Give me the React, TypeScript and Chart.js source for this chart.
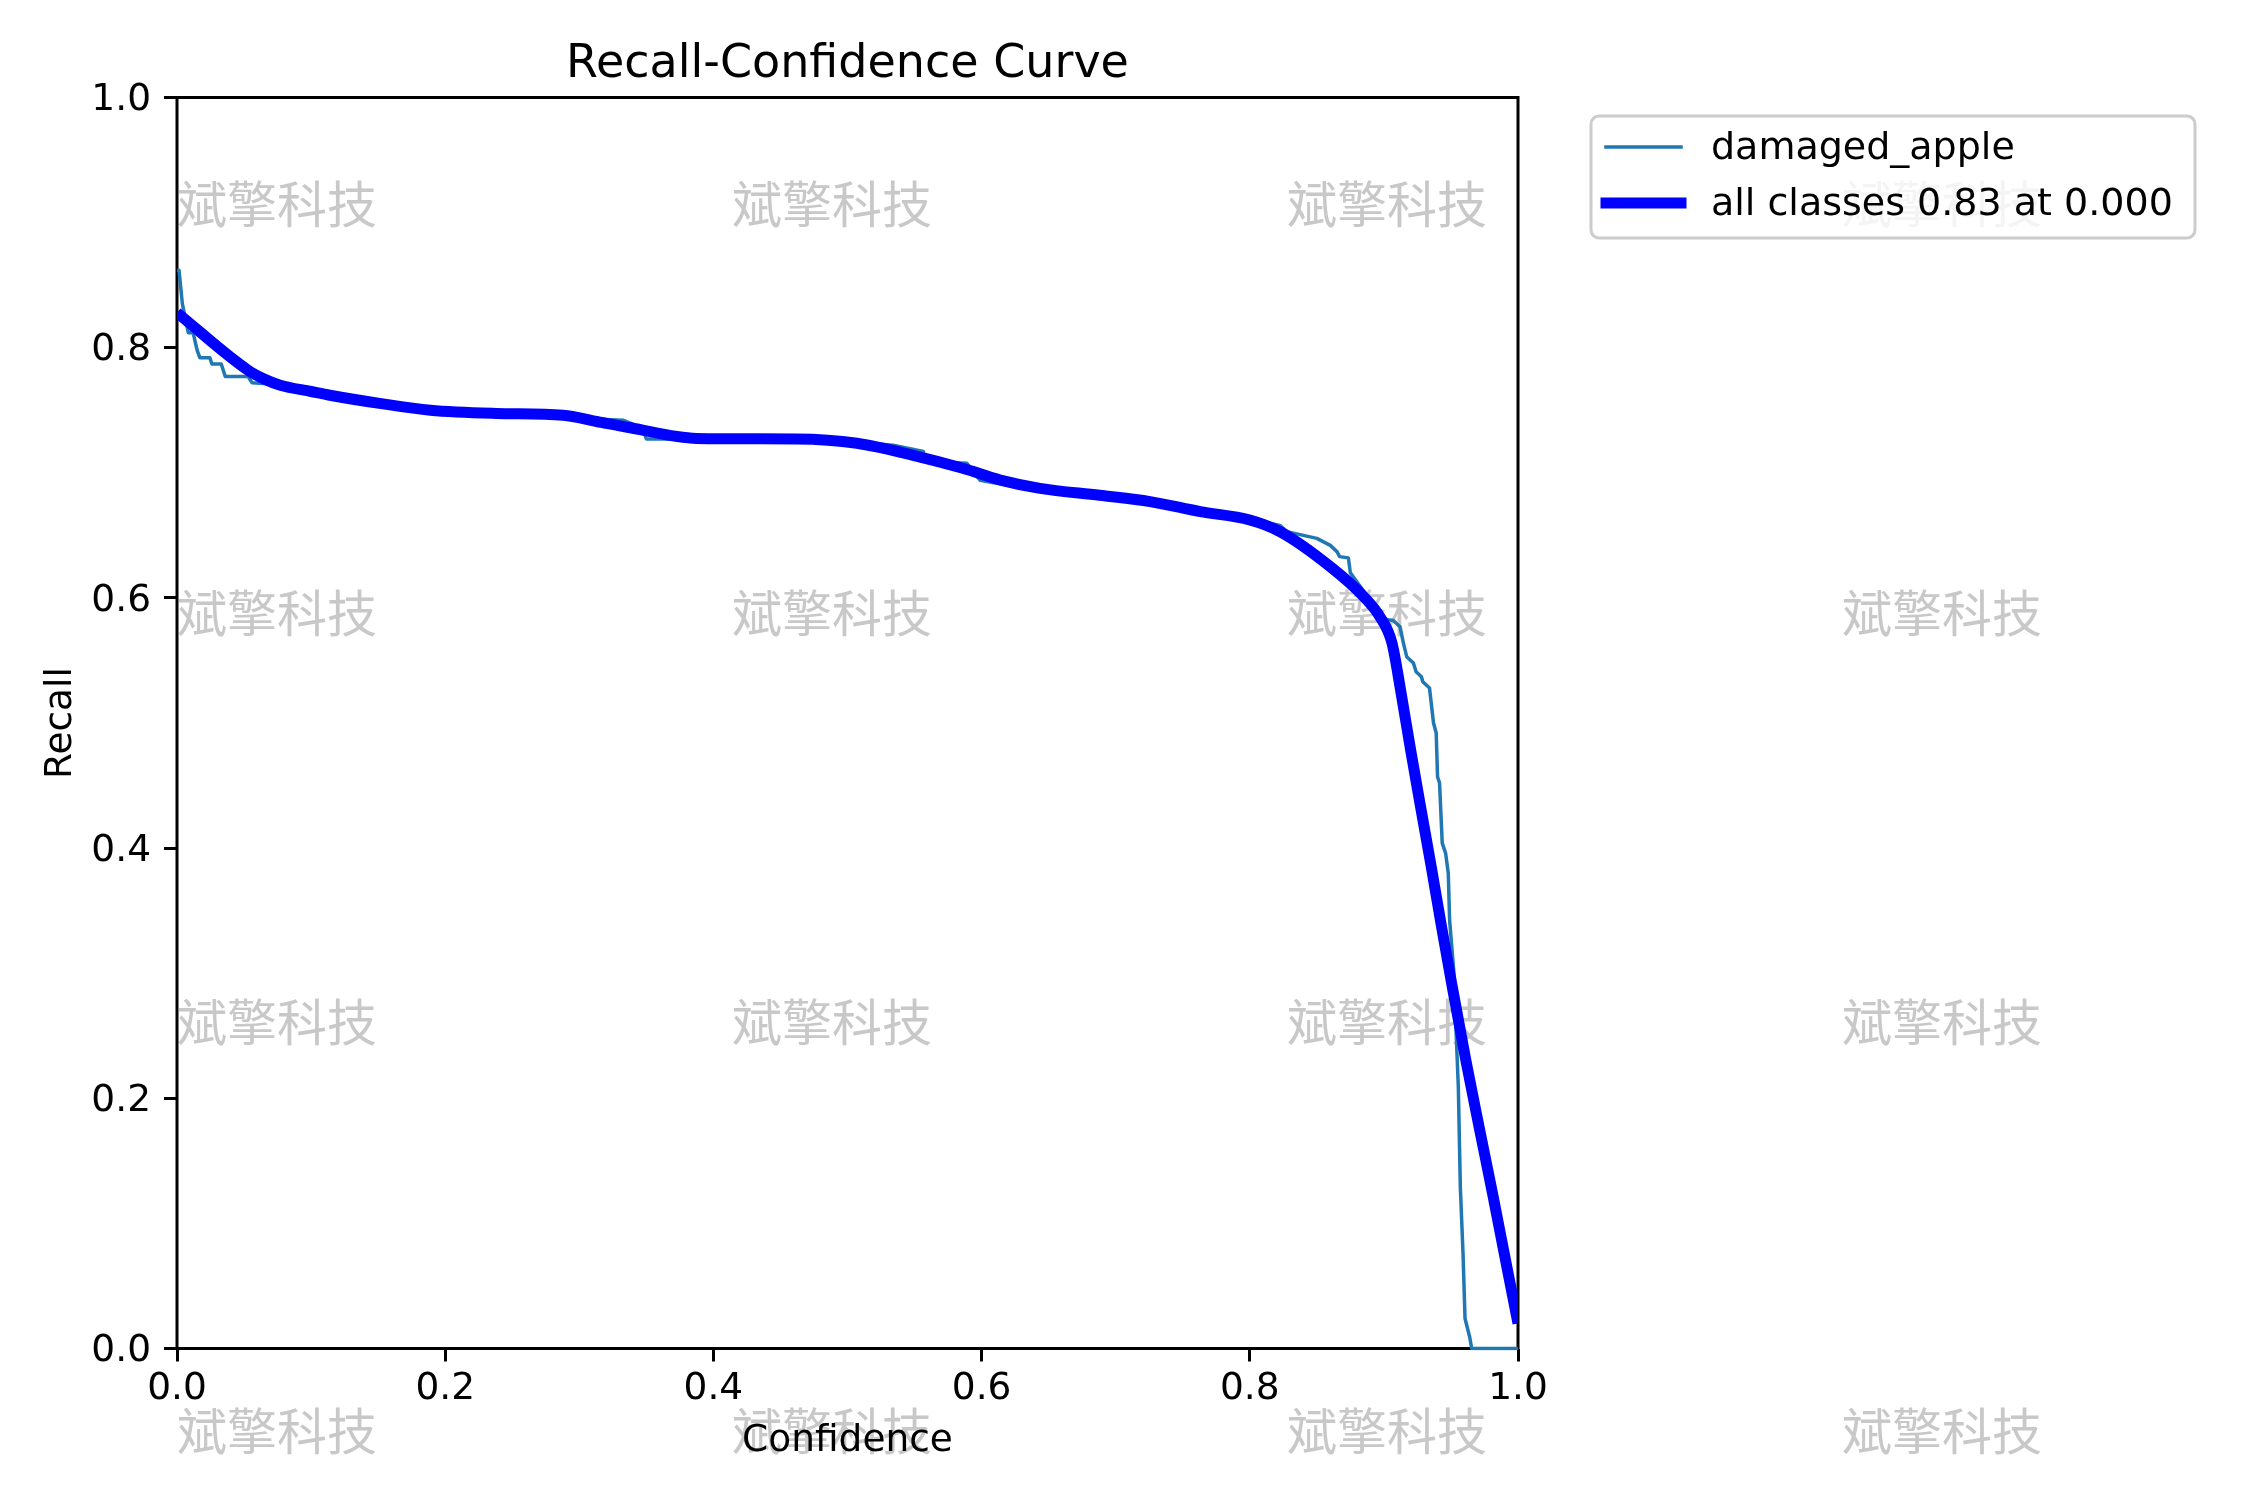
import React, { useEffect, useRef } from 'react'
import { Chart, registerables, Plugin } from 'chart.js'

Chart.register(...registerables)

// per-class curve (damaged_apple)
const classConf = [
  0, 0.0015, 0.004, 0.0084, 0.012, 0.015, 0.017, 0.0245, 0.026, 0.033,
  0.036, 0.053, 0.056, 0.07, 0.1, 0.15, 0.19, 0.24, 0.29, 0.31,
  0.333, 0.347, 0.35, 0.385, 0.39, 0.46, 0.5, 0.534, 0.5566, 0.558,
  0.589, 0.599, 0.609, 0.65, 0.69, 0.73, 0.76, 0.8, 0.8225, 0.8275,
  0.85, 0.86, 0.865, 0.867, 0.8735, 0.875, 0.894, 0.9, 0.907, 0.912,
  0.9145, 0.917, 0.922, 0.924, 0.928, 0.929, 0.934, 0.937, 0.939, 0.94,
  0.9415, 0.9435, 0.946, 0.948, 0.949, 0.952, 0.954, 0.9555, 0.957, 0.959,
  0.9605, 0.964, 0.9655, 1.0,
]
const classRecall = [
  0.862, 0.862, 0.835, 0.812, 0.812, 0.798, 0.792, 0.792, 0.787, 0.787,
  0.777, 0.777, 0.772, 0.771, 0.765, 0.756, 0.75, 0.7475, 0.746, 0.743,
  0.742, 0.736, 0.727, 0.727, 0.728, 0.727, 0.725, 0.722, 0.717, 0.709,
  0.7076, 0.694, 0.692, 0.687, 0.682, 0.676, 0.67, 0.663, 0.658, 0.653,
  0.6476, 0.642, 0.637, 0.633, 0.632, 0.62, 0.592, 0.583, 0.582, 0.577,
  0.564, 0.553, 0.548, 0.541, 0.537, 0.533, 0.528, 0.5, 0.492, 0.457,
  0.452, 0.404, 0.396, 0.38, 0.3425, 0.303, 0.249, 0.209, 0.129, 0.076,
  0.024, 0.009, 0.0, 0.0,
]

// smoothed all-classes curve
const allConf = [
  0, 0.053, 0.065, 0.077, 0.1, 0.114, 0.151, 0.189, 0.238, 0.288,
  0.313, 0.338, 0.3875, 0.462, 0.507, 0.549, 0.586, 0.614, 0.6436, 0.688,
  0.7256, 0.763, 0.8, 0.8225, 0.86, 0.885, 0.897, 0.906, 0.9125, 0.92,
  0.927, 0.935, 0.943, 0.951, 0.961, 0.971, 0.981, 0.99, 1.0,
]
const allRecall = [
  0.828, 0.782, 0.775, 0.77, 0.765, 0.762, 0.7555, 0.75, 0.7475, 0.746,
  0.741, 0.736, 0.7275, 0.727, 0.7236, 0.714, 0.7036, 0.6942, 0.6876, 0.682,
  0.677, 0.669, 0.6623, 0.653, 0.625, 0.601, 0.585, 0.564, 0.526, 0.478,
  0.435, 0.387, 0.337, 0.289, 0.231, 0.177, 0.124, 0.0745, 0.02,
]

const tickValues = [0, 0.2, 0.4, 0.6, 0.8, 1.0]
const seriesLabels = ['damaged_apple', 'all classes 0.83 at 0.000']
const chartTitle = 'Recall-Confidence Curve'
const xLabel = 'Confidence'
const yLabel = 'Recall'
const watermark = '斌擎科技'

const FONT = 'DejaVu Sans'

const decorations: Plugin<'line'> = {
  id: 'decorations',
  beforeDraw(chart) {
    const { ctx } = chart
    ctx.save()
    ctx.font = '50px "Noto Sans CJK SC"'
    ctx.fillStyle = '#c8c8c8'
    ctx.textAlign = 'left'
    ctx.textBaseline = 'middle'
    for (let r = 0; r < 4; r++) {
      for (let c = 0; c < 4; c++) {
        ctx.fillText(watermark, 177 + 555 * c, 204 + 409 * r)
      }
    }
    ctx.restore()
  },
  beforeDatasetsDraw(chart) {
    // axes frame
    const { ctx, chartArea: a } = chart
    ctx.save()
    ctx.strokeStyle = '#000'
    ctx.lineWidth = 3
    ctx.strokeRect(a.left, a.top, a.right - a.left, a.bottom - a.top)
    ctx.restore()
  },
  afterDraw(chart) {
    const { ctx, chartArea: a } = chart
    ctx.save()
    // title
    ctx.font = `46px "${FONT}"`
    ctx.fillStyle = '#000'
    ctx.textAlign = 'center'
    ctx.textBaseline = 'alphabetic'
    ctx.fillText(chartTitle, (a.left + a.right) / 2, a.top - 21)

    // legend outside the axes
    ctx.beginPath()
    ctx.roundRect(1591, 116, 604, 122, 8)
    ctx.fillStyle = 'rgba(255,255,255,0.8)'
    ctx.fill()
    ctx.strokeStyle = '#cccccc'
    ctx.lineWidth = 3
    ctx.stroke()

    ctx.font = `38px "${FONT}"`
    ctx.textAlign = 'left'
    ctx.textBaseline = 'middle'
    chart.data.datasets.forEach((ds: any, i) => {
      const y = 147 + 56 * i
      ctx.beginPath()
      ctx.strokeStyle = ds.borderColor
      ctx.lineWidth = ds.borderWidth
      ctx.lineCap = 'square'
      ctx.moveTo(1606, y)
      ctx.lineTo(1681, y)
      ctx.stroke()
      ctx.fillStyle = '#000'
      ctx.fillText(ds.label, 1711, y + 2.5)
    })
    ctx.restore()
  },
}

const RecallCurve = () => {
  const chartRef = useRef<HTMLCanvasElement>(null)
  const chartInstanceRef = useRef<Chart<'line'> | null>(null)

  useEffect(() => {
    document.body.style.margin = '0'
    if (!chartRef.current) return
    const ctx = chartRef.current.getContext('2d')
    if (!ctx) return

    const tickFont = { family: FONT, size: 37.5 }
    const grid = {
      drawOnChartArea: false,
      drawTicks: true,
      tickLength: 13,
      tickWidth: 3,
      tickColor: '#000',
    }
    const setTicks = (s: any) => {
      s.ticks = tickValues.map((v) => ({ value: v }))
    }

    chartInstanceRef.current = new Chart(ctx, {
      type: 'line',
      data: {
        datasets: [
          {
            label: seriesLabels[0],
            data: classConf.map((x, i) => ({ x, y: classRecall[i] })),
            borderColor: '#1f77b4',
            borderWidth: 3.5,
            borderJoinStyle: 'round',
            pointRadius: 0,
            tension: 0,
            order: 2,
            clip: { left: 0, top: 0, right: 0, bottom: 2 },
          },
          {
            label: seriesLabels[1],
            data: allConf.map((x, i) => ({ x, y: allRecall[i] })),
            borderColor: '#0000ff',
            borderWidth: 11,
            borderJoinStyle: 'round',
            pointRadius: 0,
            cubicInterpolationMode: 'monotone',
            order: 1,
            clip: 0,
          },
        ],
      },
      options: {
        animation: false,
        responsive: false,
        layout: { padding: { top: 97.5, right: 732, bottom: 0, left: 0 } },
        plugins: {
          legend: { display: false },
          title: { display: false },
          tooltip: { enabled: false },
        },
        scales: {
          x: {
            type: 'linear',
            min: 0,
            max: 1,
            afterBuildTicks: setTicks,
            afterFit: (s: any) => {
              s.height = 151.5
            },
            ticks: {
              font: tickFont,
              color: '#000',
              padding: 5,
              maxRotation: 0,
              autoSkip: false,
              callback: (v) => Number(v).toFixed(1),
            },
            grid,
            border: { display: false },
            title: {
              display: true,
              text: xLabel,
              color: '#000',
              font: tickFont,
              padding: { top: 0, bottom: 36 },
            },
          },
          y: {
            type: 'linear',
            min: 0,
            max: 1,
            afterBuildTicks: setTicks,
            afterFit: (s: any) => {
              s.width = 177
            },
            ticks: {
              font: tickFont,
              color: '#000',
              padding: 13,
              labelOffset: 3,
              autoSkip: false,
              callback: (v) => Number(v).toFixed(1),
            },
            grid,
            border: { display: false },
            title: {
              display: true,
              text: yLabel,
              color: '#000',
              font: tickFont,
              padding: { top: 39, bottom: 0 },
            },
          },
        },
      },
      plugins: [decorations],
    })

    return () => {
      if (chartInstanceRef.current) {
        chartInstanceRef.current.destroy()
        chartInstanceRef.current = null
      }
    }
  }, [])

  return (
    <div style={{ width: 2250, height: 1500, background: '#fff' }}>
      <canvas ref={chartRef} width={2250} height={1500} style={{ display: 'block' }} />
    </div>
  )
}

export default function App() {
  return <RecallCurve />
}
